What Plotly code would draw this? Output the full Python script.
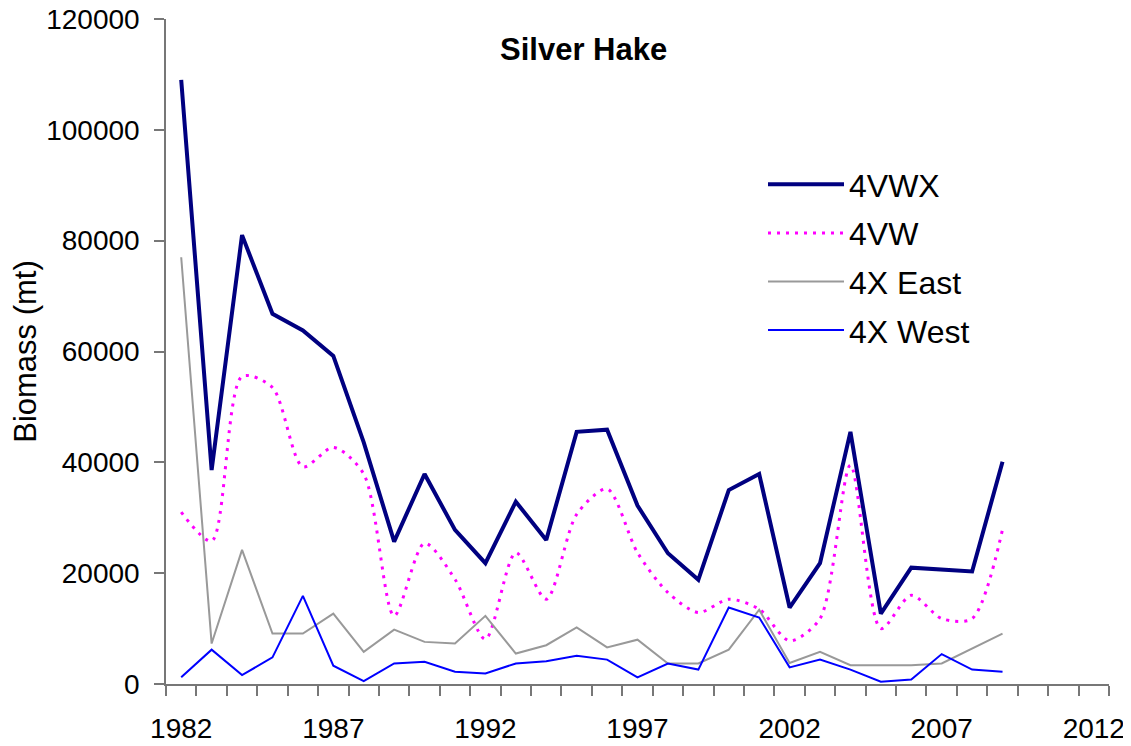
import plotly.graph_objects as go

years = list(range(1982, 2010))
all_years = list(range(1982, 2013))

s_4vwx = [109000, 38600, 81000, 66800, 63800, 59200, 43600, 25700, 37900, 27800,
          21800, 32900, 26000, 45500, 45900, 32200, 23600, 18800, 35000, 37900,
          13800, 21800, 45500, 12700, 21000, 20700, 20300, 40100]
s_4vw = [31000, 25800, 55500, 53500, 39200, 42700, 37900, 12300, 25400, 18900,
         8100, 23700, 15300, 30600, 35200, 23700, 16500, 12900, 15300, 13500,
         7800, 11800, 39500, 10000, 16000, 11800, 11800, 27900]
s_4x_east = [77000, 7300, 24200, 9100, 9100, 12700, 5800, 9800, 7600, 7300,
             12300, 5500, 7000, 10200, 6600, 8000, 3700, 3700, 6200, 13400,
             3800, 5800, 3400, 3400, 3400, 3700, 6400, 9100]
s_4x_west = [1200, 6200, 1600, 4800, 15900, 3300, 500, 3700, 4000, 2200,
             1900, 3700, 4100, 5100, 4400, 1200, 3700, 2600, 13800, 12000,
             3000, 4400, 2600, 400, 800, 5400, 2600, 2200]

x_labels = [1982, 1987, 1992, 1997, 2002, 2007, 2012]
y_ticks = [0, 20000, 40000, 60000, 80000, 100000, 120000]

FONT = "Liberation Sans, Arial, sans-serif"

fig = go.Figure()
fig.add_trace(go.Scatter(x=years, y=s_4vwx, name="4VWX", mode="lines",
                         line=dict(color="#000080", width=4), legendgroup="a"))
fig.add_trace(go.Scatter(x=years, y=s_4vw, name="4VW", mode="lines",
                         line=dict(color="#FF00FF", width=3, dash="3px,6px",
                                   shape="spline", smoothing=0.8), legendgroup="b"))
fig.add_trace(go.Scatter(x=years, y=s_4x_east, name="4X East", mode="lines",
                         line=dict(color="#999999", width=2), legendgroup="c"))
fig.add_trace(go.Scatter(x=years, y=s_4x_west, name="4X West", mode="lines",
                         line=dict(color="#0000FF", width=2), legendgroup="d"))

# page has an 8px body margin; figure sized to fit the window
W, H = 1123, 738
L, R, T, B = 158, 22, 11, 62
pw = W - L - R
ph = H - T - B
yb = H - B  # plot bottom in figure px

fig.update_layout(
    width=W, height=H,
    margin=dict(l=L, r=R, t=T, b=B, autoexpand=False),
    paper_bgcolor="white", plot_bgcolor="white",
    font=dict(family=FONT, size=28, color="black"),
    showlegend=True,
    legend=dict(x=(755 - L) / pw, y=(yb - 149) / ph, xanchor="left", yanchor="top",
                font=dict(size=32, family=FONT), itemwidth=76,
                tracegroupgap=4, bgcolor="rgba(0,0,0,0)"),
    annotations=[dict(text="<b>Silver Hake</b>", xref="paper", yref="paper",
                      x=(575 - L) / pw, y=(yb - 42) / ph,
                      xanchor="center", yanchor="middle",
                      showarrow=False, font=dict(size=31, family=FONT))],
)

fig.update_xaxes(
    range=[1981.5, 2012.5], automargin=False, ticklabeloverflow="allow",
    tickmode="array", tickvals=x_labels, ticktext=[str(v) for v in x_labels],
    ticks="outside", ticklen=19, tickcolor="rgba(0,0,0,0)",
    showline=True, linecolor="#777777", linewidth=1.5,
    showgrid=False, zeroline=False,
    tickfont=dict(size=28),
    minor=dict(tickmode="array", tickvals=[v - 0.5 for v in all_years] + [2012.5],
               ticks="outside", ticklen=10, tickcolor="#777777", tickwidth=1.5,
               showgrid=False),
)
fig.update_yaxes(
    range=[0, 120000], automargin=False, ticklabeloverflow="allow",
    tickmode="array", tickvals=y_ticks, ticktext=[str(v) for v in y_ticks],
    ticks="outside", ticklen=10, tickcolor="#777777", tickwidth=1.5,
    ticklabelstandoff=9,
    showline=True, linecolor="#777777", linewidth=1.5,
    showgrid=False, zeroline=False,
    tickfont=dict(size=28),
    title=dict(text="Biomass (mt)", font=dict(size=31), standoff=4),
)

fig.write_html("out.html")
